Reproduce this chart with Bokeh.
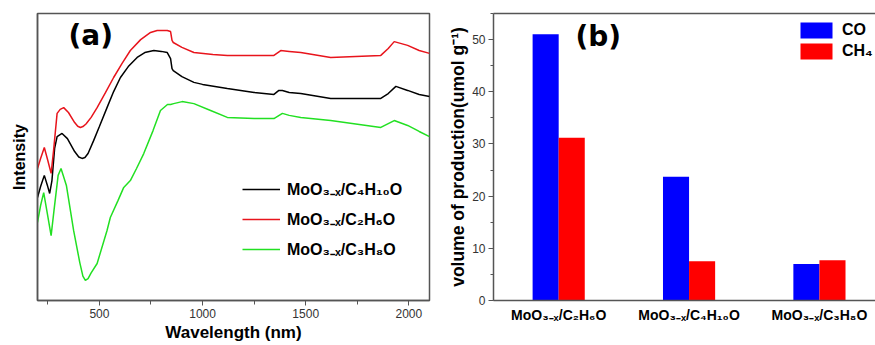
import numpy as np
from bokeh.plotting import figure
from bokeh.models import (FixedTicker, SingleIntervalTicker, LinearAxis, Legend,
                          LegendItem, Label)
from bokeh.layouts import row
from bokeh.embed import file_html
from bokeh.resources import INLINE

# ---------------- Panel (a): absorption spectra ----------------
wl_c4h10o = [200, 215, 233, 248, 259, 270, 283, 295, 319, 345, 380, 400, 416, 430, 445, 472, 500, 537, 569, 602, 640, 683,
             720, 764, 800, 829, 845, 852, 858, 900, 958, 1000, 1120, 1250, 1346, 1370, 1387, 1420, 1476, 1621, 1864, 1900,
             1937, 1994, 2050, 2100]
int_c4h10o = [35.9, 39.7, 43.6, 40.1, 37.3, 41.8, 53.0, 57.1, 58.2, 56.4, 51.9, 50.0, 49.5, 49.8, 51.2, 55.7, 60.6, 67.2, 72.8, 77.7, 81.5, 84.7,
              86.4, 87.1, 86.8, 86.4, 84.3, 80.8, 80.1, 78.0, 76.0, 75.3, 73.9, 72.5, 71.8, 73.2, 73.2, 72.5, 72.1, 70.4, 70.4, 72.1,
              74.6, 73.2, 71.8, 71.1]

wl_c2h6o = [200, 215, 233, 250, 266, 278, 295, 310, 327, 350, 380, 395, 408, 420, 435, 460, 489, 530, 569, 610, 650, 700,
            748, 780, 829, 845, 852, 858, 900, 958, 1050, 1120, 1250, 1346, 1379, 1420, 1476, 1621, 1864, 1900, 1929, 1994,
            2050, 2100]
int_c2h6o = [46.0, 49.5, 53.3, 48.8, 44.3, 52.3, 65.2, 66.6, 67.2, 65.5, 62.0, 60.7, 60.3, 60.6, 61.5, 63.8, 67.2, 72.5, 77.7, 82.6, 87.1, 90.9,
             93.4, 94.1, 94.1, 93.7, 90.6, 89.9, 88.2, 86.4, 85.7, 85.4, 85.4, 85.4, 87.1, 86.8, 86.4, 84.7, 85.4, 87.8, 90.2, 88.9,
             87.1, 86.1]

wl_c3h8o = [200, 215, 230, 245, 266, 280, 300, 314, 340, 375, 405, 420, 432, 445, 460, 489, 537, 553, 590, 618, 650, 680,
            715, 760, 796, 830, 845, 860, 901, 958, 1039, 1120, 1250, 1346, 1387, 1420, 1476, 1621, 1864, 1929, 1994, 2050,
            2100]
int_c3h8o = [27.2, 33.1, 37.6, 31.4, 22.6, 31.4, 43.6, 46.0, 40.1, 24.4, 13.2, 8.5, 7.0, 7.6, 9.6, 12.9, 24.4, 28.9, 34.8, 39.4, 41.8, 46.0,
             51.2, 59.2, 66.2, 68.3, 68.3, 68.6, 69.3, 68.6, 66.2, 63.8, 63.4, 63.4, 65.2, 64.5, 63.8, 62.7, 60.3, 62.7, 61.0, 58.9,
             57.1]

legend_a = ["MoO\u2083\u208b\u2093/C\u2084H\u2081\u2080O",
            "MoO\u2083\u208b\u2093/C\u2082H\u2086O",
            "MoO\u2083\u208b\u2093/C\u2083H\u2088O"]

# ---------------- Panel (b): production bars ----------------
categories = ["MoO\u2083\u208b\u2093/C\u2082H\u2086O",
              "MoO\u2083\u208b\u2093/C\u2084H\u2081\u2080O",
              "MoO\u2083\u208b\u2093/C\u2083H\u2088O"]
co_values = [51.0, 23.7, 7.0]
ch4_values = [31.2, 7.5, 7.7]
gas_names = ["CO", "CH\u2084"]

FONT = "Liberation Sans"
FRAME = "#555555"
TICKC = "#333333"

# ---------- figure A ----------
pa = figure(width=440, height=345, x_range=(200, 2100), y_range=(0, 100),
            output_backend="svg", toolbar_location=None,
            min_border_left=37, min_border_right=11, min_border_top=13, min_border_bottom=45)
pa.xgrid.visible = False
pa.ygrid.visible = False
pa.outline_line_color = FRAME
pa.outline_line_width = 1.5
pa.outline_line_alpha = 1.0

r1 = pa.line(wl_c4h10o, int_c4h10o, line_color="#000000", line_width=1.5)
r2 = pa.line(wl_c2h6o, int_c2h6o, line_color="#e8141c", line_width=1.5)
r3 = pa.line(wl_c3h8o, int_c3h8o, line_color="#22e022", line_width=1.5)

xa = pa.xaxis[0]
xa.ticker = SingleIntervalTicker(interval=500, num_minor_ticks=2)
xa.major_tick_out = 5
xa.major_tick_in = 0
xa.minor_tick_out = 4
xa.minor_tick_in = 0
xa.major_tick_line_color = FRAME
xa.minor_tick_line_color = FRAME
xa.axis_line_color = FRAME
xa.axis_line_width = 1.5
xa.major_label_text_font = FONT
xa.major_label_text_font_size = "12px"
xa.major_label_text_color = TICKC
xa.major_label_standoff = 3
xa.axis_label = "Wavelength (nm)"
xa.axis_label_text_font = FONT
xa.axis_label_text_font_size = "17px"
xa.axis_label_text_font_style = "bold"
xa.axis_label_text_color = "#000000"
xa.axis_label_standoff = 2

ya = pa.yaxis[0]
ya.ticker = FixedTicker(ticks=[])
ya.major_tick_line_color = None
ya.minor_tick_line_color = None
ya.axis_line_color = FRAME
ya.axis_line_width = 1.5
ya.axis_label = "Intensity"
ya.axis_label_text_font = FONT
ya.axis_label_text_font_size = "16px"
ya.axis_label_text_font_style = "bold"
ya.axis_label_text_color = "#000000"
ya.axis_label_standoff = 10

leg_a = Legend(items=[LegendItem(label=legend_a[0], renderers=[r1]),
                      LegendItem(label=legend_a[1], renderers=[r2]),
                      LegendItem(label=legend_a[2], renderers=[r3])],
               location=(205, 40), border_line_color=None, background_fill_alpha=0,
               glyph_width=38, glyph_height=20, label_height=20, spacing=8,
               padding=0, margin=0, label_standoff=7,
               label_text_font=FONT, label_text_font_size="16px",
               label_text_font_style="bold", label_text_color="#000000")
pa.add_layout(leg_a)

pa.add_layout(Label(x=350, y=92.3, text="(a)", text_font="DejaVu Sans", text_font_size="28px",
                    text_font_style="bold", text_baseline="middle", text_color="#000000"))

# ---------- figure B ----------
pb = figure(width=435, height=345, x_range=(0.5, 3.43), y_range=(0, 55),
            output_backend="svg", toolbar_location=None,
            min_border_left=53, min_border_right=0, min_border_top=11, min_border_bottom=45)
pb.xgrid.visible = False
pb.ygrid.visible = False
pb.outline_line_color = None

x_pos = np.arange(1, len(categories) + 1)
bar_w = 0.2
rb1 = pb.vbar(x=x_pos - bar_w / 2, top=co_values, width=bar_w, fill_color="#0000ff", line_color=None)
rb2 = pb.vbar(x=x_pos + bar_w / 2, top=ch4_values, width=bar_w, fill_color="#ff0000", line_color=None)

xb = pb.xaxis[0]
xb.ticker = FixedTicker(ticks=list(x_pos))
xb.major_label_overrides = {int(i): c for i, c in zip(x_pos, categories)}
xb.major_tick_line_color = None
xb.minor_tick_line_color = None
xb.axis_line_color = FRAME
xb.axis_line_width = 1.5
xb.major_label_text_font = FONT
xb.major_label_text_font_size = "14px"
xb.major_label_text_font_style = "bold"
xb.major_label_text_color = "#000000"
xb.major_label_standoff = 0

yb = pb.yaxis[0]
yb.ticker = SingleIntervalTicker(interval=10, num_minor_ticks=2)
yb.major_tick_out = 5
yb.major_tick_in = 0
yb.minor_tick_out = 3
yb.minor_tick_in = 0
yb.major_tick_line_color = FRAME
yb.minor_tick_line_color = FRAME
yb.axis_line_color = FRAME
yb.axis_line_width = 1.5
yb.major_label_text_font = FONT
yb.major_label_text_font_size = "12px"
yb.major_label_text_color = TICKC
yb.major_label_standoff = 3
yb.axis_label = "volume of production(umol g\u207b\u00b9)"
yb.axis_label_text_font = FONT
yb.axis_label_text_font_size = "17.5px"
yb.axis_label_text_font_style = "bold"
yb.axis_label_text_color = "#000000"
yb.axis_label_standoff = 1

top_axis = LinearAxis(ticker=FixedTicker(ticks=[]), major_tick_out=0, major_tick_in=0,
                      major_label_standoff=0, axis_line_color=FRAME, axis_line_width=1.5,
                      major_tick_line_color=None, minor_tick_line_color=None)
pb.add_layout(top_axis, "above")

leg_b = Legend(items=[LegendItem(label=gas_names[0], renderers=[rb1]),
                      LegendItem(label=gas_names[1], renderers=[rb2])],
               location=(303, 239), border_line_color=None, background_fill_alpha=0,
               glyph_width=40, glyph_height=20, label_height=20, spacing=1,
               padding=0, margin=0, label_standoff=6,
               label_text_font=FONT, label_text_font_size="16px",
               label_text_font_style="bold", label_text_color="#000000")
pb.add_layout(leg_b)

pb.add_layout(Label(x=1.129, y=50.5, text="(b)", text_font="DejaVu Sans", text_font_size="28px",
                    text_font_style="bold", text_baseline="middle", text_color="#000000"))

layout = row(pa, pb)
open("out.html", "w").write(file_html(layout, INLINE))
